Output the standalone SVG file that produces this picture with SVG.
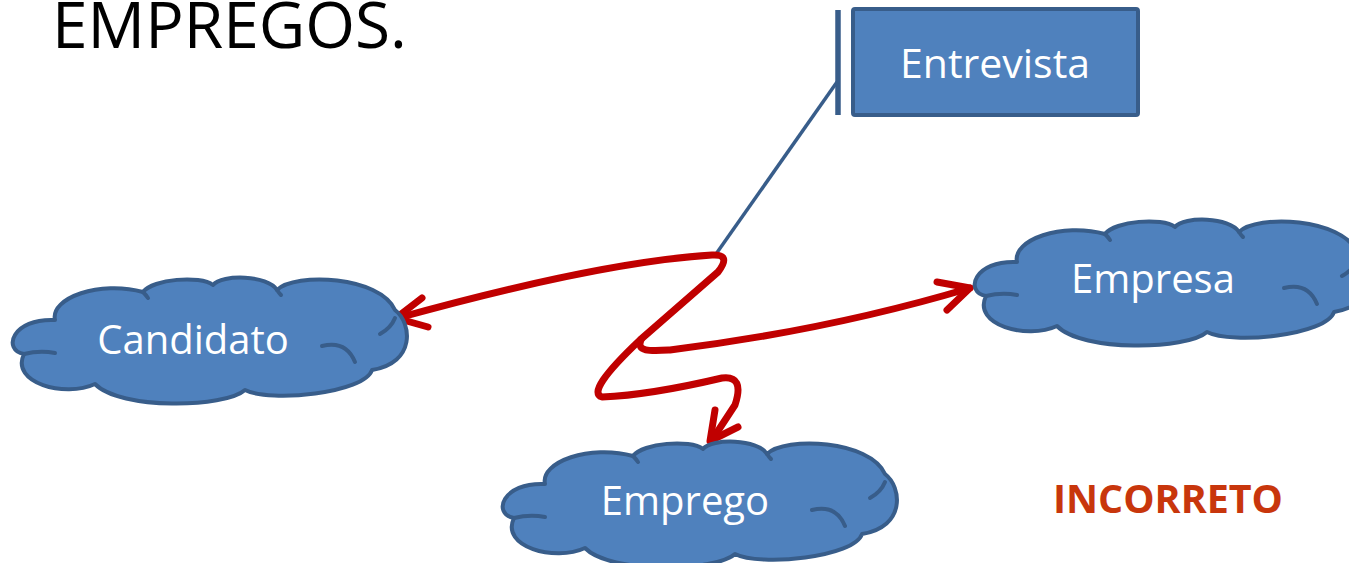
<svg xmlns="http://www.w3.org/2000/svg" xmlns:xlink="http://www.w3.org/1999/xlink" width="1349" height="563" viewBox="0 0 1349 563">
<style>
.cloud{fill:#4F81BD;stroke:#385D8A;stroke-width:4;stroke-linejoin:round}
.crease{fill:none;stroke:#385D8A;stroke-width:4;stroke-linecap:round}
.lbl{font-family:"Open Sans","Noto Sans",sans-serif;fill:#FFFFFF;text-anchor:middle}
.red{fill:none;stroke:#C00000;stroke-width:7;stroke-linecap:round;stroke-linejoin:round}
</style>
<defs>
<g id="cloudShape">
<path class="cloud" d="M45,42 C40,20 90,2 133,14 C143,1 190,-3 203,7 C212,-4 258,-3 267,12 C285,-6 370,-2 385,32 C402,45 406,85 362,92 C355,115 260,125 235,112 C215,130 110,132 85,106 C55,120 0,105 14,76 C-8,72 2,40 45,42 Z"/>
<path class="crease" d="M14,76 Q30,72 45,75"/>
<path class="crease" d="M312,68 Q336,62 345,84"/>
<path class="crease" d="M370,56 Q381,50 385,40"/>
<path class="crease" d="M133,14 Q136,17 138,20"/>
<path class="crease" d="M267,12 Q269,15 271,17"/>
</g>
</defs>
<text x="52" y="48" font-family="'Open Sans','Noto Sans',sans-serif" font-size="64" fill="#000000">EMPREGOS.</text>
<g id="connectors">
<line x1="838" y1="10" x2="838" y2="115" stroke="#385D8A" stroke-width="5.5"/>
<line x1="837" y1="82" x2="716" y2="254" stroke="#385D8A" stroke-width="3.5"/>
<path class="red" d="M398,318 Q600,262 712,255 Q732,254 718,272 L640,340 Q585,392 602,397 Q650,395 722,378 Q745,375 735,405 L712,440"/>
<path class="red" d="M641,340 C636,352 650,351 670,350 Q830,330 970,288"/>
<path class="red" d="M422,298 L396,318 L428,327"/>
<path class="red" d="M715,410 L710,441 L738,427"/>
<path class="red" d="M937,282 L970,288 L947,310"/>
</g>
<g id="entrevista">
<rect x="853" y="9" width="285" height="106" rx="2" fill="#4F81BD" stroke="#385D8A" stroke-width="4"/>
<text class="lbl" x="995" y="78" font-size="41">Entrevista</text>
</g>
<g id="candidato">
<use xlink:href="#cloudShape" transform="translate(10,278)"/>
<text class="lbl" x="193" y="354" font-size="40">Candidato</text>
</g>
<g id="empresa">
<use xlink:href="#cloudShape" transform="translate(972,220)"/>
<text class="lbl" x="1153" y="293" font-size="40">Empresa</text>
</g>
<g id="emprego">
<use xlink:href="#cloudShape" transform="translate(500,442)"/>
<text class="lbl" x="685" y="515" font-size="40">Emprego</text>
</g>
<text x="1168" y="513" font-family="'Open Sans','Noto Sans',sans-serif" font-weight="bold" font-size="40" fill="#C8360C" text-anchor="middle" textLength="230" lengthAdjust="spacingAndGlyphs">INCORRETO</text>
</svg>
